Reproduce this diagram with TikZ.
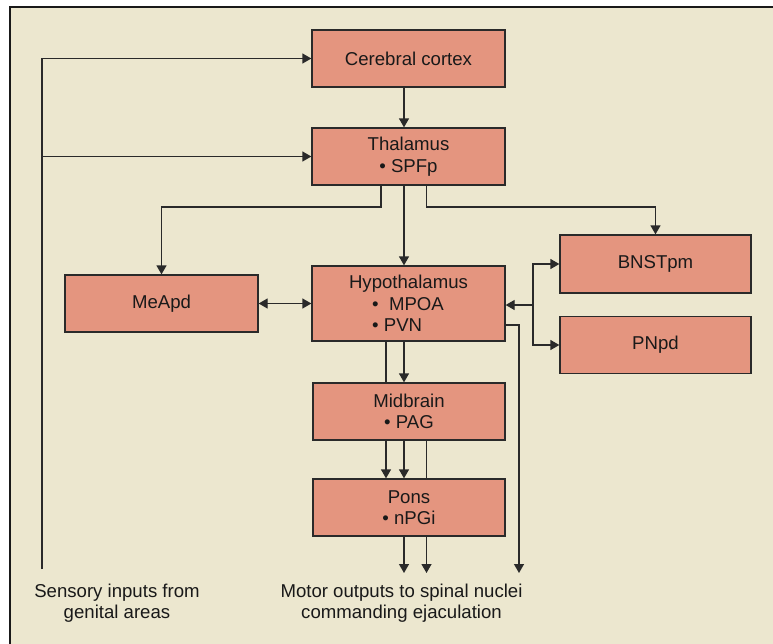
\documentclass[tikz,border=0pt]{standalone}
\usepackage{fontspec}
\setmainfont{Liberation Sans}
\usetikzlibrary{arrows.meta}
\definecolor{bgcream}{HTML}{ECE7CF}
\definecolor{boxsalmon}{HTML}{E4957F}
\definecolor{linegray}{HTML}{2A2A2A}

\begin{document}
\begin{tikzpicture}[x=1pt, y=-1pt,
    box/.style={draw=linegray, line width=1.3pt, fill=boxsalmon, minimum width=193pt, minimum height=57pt,
      inner sep=0pt, align=center, text=black!90, font=\fontsize{18.6}{21.5}\selectfont},
    lbl/.style={inner sep=0pt, align=center, text=black!90, font=\fontsize{18.6}{21.5}\selectfont},
    conn/.style={draw=linegray, line width=1.3pt},
    arr/.style={conn, -{Triangle[length=9pt,width=10pt]}},
    arrs/.style={conn, {Triangle[length=9pt,width=10pt]}-{Triangle[length=9pt,width=10pt]}}]
    \useasboundingbox (0,0) rectangle (773,643);
    \clip (0,0) rectangle (773,643);
    \draw[line width=2.5pt, draw=black!90, fill=bgcream] (10,7) rectangle (790,660);

    \node[box] (cortex) at (408.5,58.5) {Cerebral cortex};
    \node[box] (thal) at (408.5,156.5) {Thalamus\\\textbullet\ SPFp};
    \node[box, minimum height=75pt] (hypo) at (408.5,303.5)
      {Hypothalamus\\\makebox[3.9em][l]{\textbullet\ \ MPOA}\\\makebox[3.9em][l]{\textbullet\ PVN}};
    \node[box] (meapd) at (161.5,303.5) {MeApd};
    \node[box, minimum width=191pt, minimum height=58pt] (bnst) at (655.5,264) {BNSTpm};
    \node[box, minimum width=191pt] (pnpd) at (655.5,345) {PNpd};
    \node[box, minimum width=192pt] (mid) at (409,411.5) {Midbrain\\\textbullet\ PAG};
    \node[box, minimum width=192pt] (pons) at (409,507.5) {Pons\\\textbullet\ nPGi};

    \node[lbl, anchor=north] (sensory) at (117,583.5) {Sensory inputs from\\genital areas};
    \node[lbl, anchor=north] (motor) at (401.5,583.5) {Motor outputs to spinal nuclei\\commanding ejaculation};

    \coordinate (sens) at (42,569);
    \coordinate (split) at (0,207);
    \coordinate (junc) at (533,305);
    \coordinate (outs) at (0,573);
    \coordinate (colA) at (381,0);
    \coordinate (colB) at (386,0);
    \coordinate (colC) at (404,0);
    \coordinate (colD) at (426.5,0);
    \coordinate (colE) at (519,0);

    \draw[arr] (sens) |- (cortex.west);
    \draw[arr] (sens |- thal.west) -- (thal.west);
    \draw[arr] (colC |- cortex.south) -- (colC |- thal.north);
    \draw[arr] (colC |- thal.south) -- (colC |- hypo.north);
    \draw[arr] (colA |- thal.south) |- (split -| meapd.north) -- (meapd.north);
    \draw[arr] (colD |- thal.south) |- (split -| bnst.north) -- (bnst.north);
    \draw[arrs] (meapd) -- (hypo);
    \draw[arrs] (bnst.west) -| (junc) |- (pnpd.west);
    \draw[arr] (junc) -- (junc -| hypo.east);
    \draw[arr] ([yshift=-21.5pt]hypo.east) -| (colE |- outs);
    \draw[conn] (colB |- hypo.south) -- (colB |- mid.north);
    \draw[arr] (colB |- mid.south) -- (colB |- pons.north);
    \draw[arr] (colC |- hypo.south) -- (colC |- mid.north);
    \draw[arr] (colC |- mid.south) -- (colC |- pons.north);
    \draw[conn] (colD |- mid.south) -- (colD |- pons.north);
    \draw[arr] (colC |- pons.south) -- (colC |- outs);
    \draw[arr] (colD |- pons.south) -- (colD |- outs);
\end{tikzpicture}
\end{document}
